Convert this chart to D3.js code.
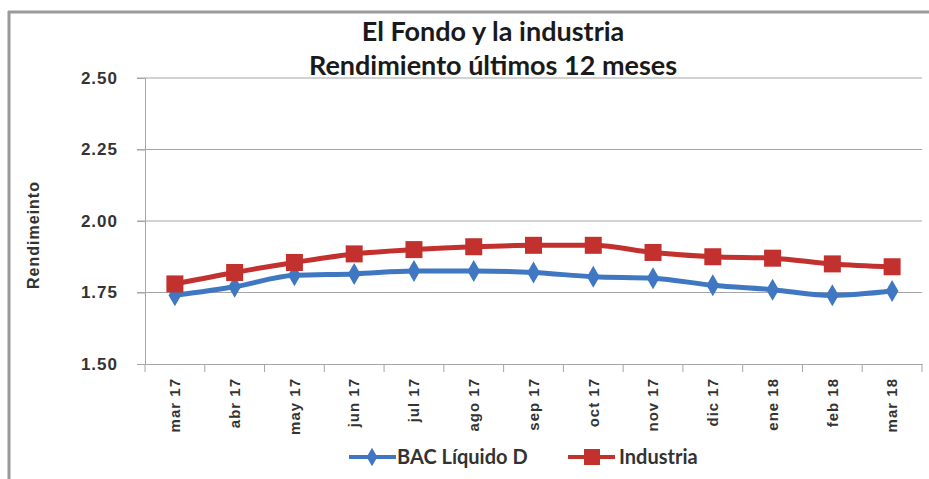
<!DOCTYPE html>
<html>
<head>
<meta charset="utf-8">
<script src="https://cdn.jsdelivr.net/npm/d3@7"></script>
<style>
  html, body { margin: 0; padding: 0; background: #fff; }
  svg { display: block; }
</style>
</head>
<body>
<svg id="chart" width="929" height="479"></svg>
<script>
const categories = ["mar 17","abr 17","may 17","jun 17","jul 17","ago 17","sep 17","oct 17","nov 17","dic 17","ene 18","feb 18","mar 18"];
const bacValues = [1.74, 1.77, 1.81, 1.815, 1.825, 1.825, 1.82, 1.805, 1.80, 1.775, 1.76, 1.74, 1.755];
const industriaValues = [1.78, 1.82, 1.855, 1.885, 1.90, 1.91, 1.915, 1.915, 1.89, 1.875, 1.87, 1.85, 1.84];
const yTicks = [1.50, 1.75, 2.00, 2.25, 2.50];
const titleLines = ["El Fondo y la industria", "Rendimiento últimos 12 meses"];
const yAxisTitle = "Rendimeinto";
const seriesNames = ["BAC Líquido D", "Industria"];

const svg = d3.select("#chart");
const plotLeft = 145, plotRight = 922, plotTop = 78, plotBottom = 364;

// frame
svg.append("line").attr("x1", 8).attr("x2", 929).attr("y1", 12).attr("y2", 12)
  .attr("stroke", "#9a9a9a").attr("stroke-width", 3);
svg.append("line").attr("x1", 9).attr("x2", 9).attr("y1", 11).attr("y2", 479)
  .attr("stroke", "#9a9a9a").attr("stroke-width", 3);

const x = d3.scaleBand().domain(categories).range([plotLeft, plotRight]);
const y = d3.scaleLinear().domain([1.5, 2.5]).range([plotBottom, plotTop]);

// gridlines
svg.append("g").selectAll("line").data(yTicks.slice(1)).join("line")
  .attr("x1", plotLeft - 8).attr("x2", plotRight).attr("y1", d => y(d)).attr("y2", d => y(d))
  .attr("stroke", "#a6a6a6").attr("stroke-width", 1);

// y axis
const yAxis = svg.append("g").attr("transform", `translate(${plotLeft},0)`)
  .call(d3.axisLeft(y).tickValues(yTicks).tickFormat(d3.format(".2f")).tickSize(8).tickPadding(19));
yAxis.select(".domain").attr("stroke", "#a6a6a6");
yAxis.selectAll(".tick line").attr("stroke", "#a6a6a6");
yAxis.selectAll("text").attr("font-family", "Liberation Sans, Arial, sans-serif")
  .attr("font-weight", "bold").attr("font-size", 17).attr("letter-spacing", 1).attr("fill", "#333");

// x axis
const xAxis = svg.append("g").attr("transform", `translate(0,${plotBottom})`)
  .call(d3.axisBottom(x).tickSize(0).tickPadding(0));
xAxis.select(".domain").attr("stroke", "#a6a6a6");
xAxis.selectAll(".tick text")
  .attr("font-family", "Liberation Sans, Arial, sans-serif").attr("font-weight", "bold")
  .attr("font-size", 15).attr("letter-spacing", 1).attr("fill", "#333")
  .attr("text-anchor", "end").attr("dy", "0.35em").attr("y", 0)
  .attr("transform", "translate(0,14) rotate(-90)");
// boundary ticks
const bounds = categories.map(c => x(c)).concat([x(categories[categories.length - 1]) + x.bandwidth()]);
svg.append("g").selectAll("line").data(bounds).join("line")
  .attr("x1", d => d).attr("x2", d => d).attr("y1", plotBottom).attr("y2", plotBottom + 8)
  .attr("stroke", "#a6a6a6");

// titles
svg.append("g").selectAll("text").data(titleLines).join("text")
  .attr("x", 493).attr("y", (d, i) => 41 + i * 34)
  .attr("text-anchor", "middle")
  .attr("font-family", "Lato, 'Open Sans', sans-serif").attr("font-weight", "bold")
  .attr("font-size", 27).attr("fill", "#1a1a1a").text(d => d);

svg.append("text").attr("transform", "translate(39,235) rotate(-90)")
  .attr("text-anchor", "middle")
  .attr("font-family", "Liberation Sans, Arial, sans-serif").attr("font-weight", "bold")
  .attr("font-size", 16).attr("letter-spacing", 1).attr("fill", "#333").text(yAxisTitle);

const cx = c => x(c) + x.bandwidth() / 2;
const line = d3.line().x(d => cx(d.c)).y(d => y(d.v)).curve(d3.curveMonotoneX);
const blue = "#3f77c2", red = "#c3312f";
const bacData = categories.map((c, i) => ({ c, v: bacValues[i] }));
const indData = categories.map((c, i) => ({ c, v: industriaValues[i] }));

svg.append("path").datum(bacData).attr("d", line).attr("fill", "none")
  .attr("stroke", blue).attr("stroke-width", 5).attr("stroke-linejoin", "round");
svg.append("g").selectAll("path").data(bacData).join("path")
  .attr("d", d3.symbol(d3.symbolDiamond, 140))
  .attr("transform", d => `translate(${cx(d.c)},${y(d.v)})`)
  .attr("fill", blue);

svg.append("path").datum(indData).attr("d", line).attr("fill", "none")
  .attr("stroke", red).attr("stroke-width", 5).attr("stroke-linejoin", "round");
svg.append("g").selectAll("rect").data(indData).join("rect")
  .attr("x", d => cx(d.c) - 8.5).attr("y", d => y(d.v) - 8.5)
  .attr("width", 17).attr("height", 17).attr("fill", red);

// legend
const legendY = 457;
const lg = svg.append("g");
const items = [
  { name: seriesNames[0], color: blue, x0: 349, kind: "diamond", tx: 397 },
  { name: seriesNames[1], color: red, x0: 568, kind: "square", tx: 619 }
];
items.forEach(it => {
  lg.append("line").attr("x1", it.x0).attr("x2", it.x0 + 47)
    .attr("y1", legendY).attr("y2", legendY).attr("stroke", it.color).attr("stroke-width", 4);
  if (it.kind === "diamond") {
    lg.append("path").attr("d", d3.symbol(d3.symbolDiamond, 100)())
      .attr("transform", `translate(${it.x0 + 23},${legendY})`).attr("fill", it.color);
  } else {
    lg.append("rect").attr("x", it.x0 + 16).attr("y", legendY - 8)
      .attr("width", 16).attr("height", 16).attr("fill", it.color);
  }
  lg.append("text").attr("x", it.tx).attr("y", legendY + 7)
    .attr("font-family", "Lato, 'Open Sans', sans-serif").attr("font-weight", "bold")
    .attr("font-size", 20).attr("fill", "#333").text(it.name);
});
</script>
</body>
</html>
